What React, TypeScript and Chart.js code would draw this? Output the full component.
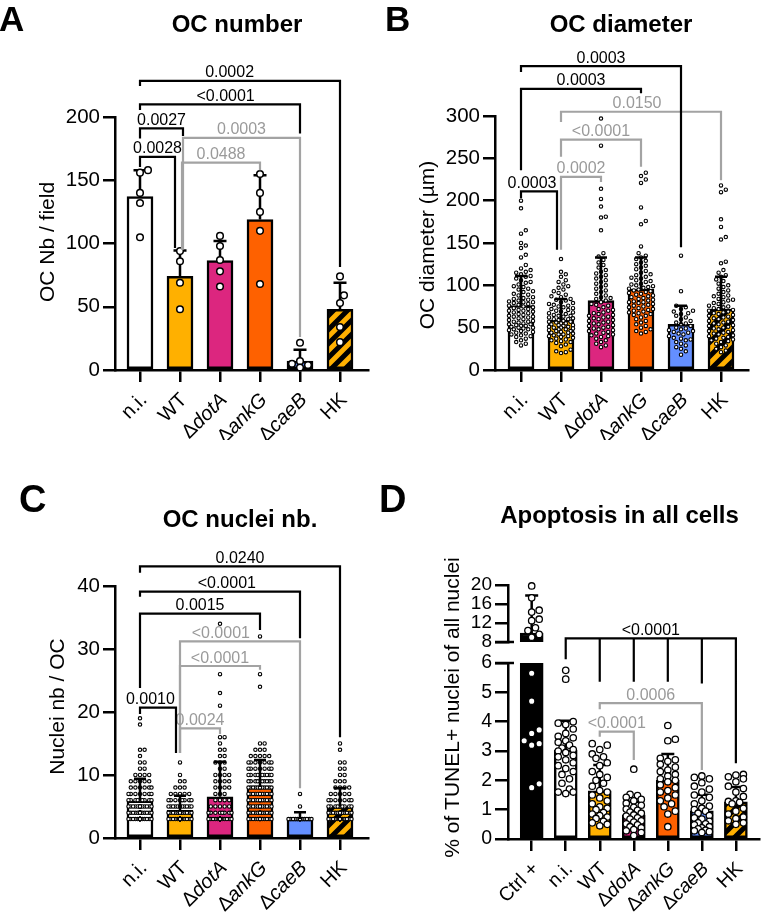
import React, { useEffect, useRef } from 'react';
import { Chart, registerables } from 'chart.js';

Chart.register(...registerables);

const FONT = "'Liberation Sans', Arial, Helvetica, sans-serif";
const GRAY_LINE = '#a3a3a3';
const GRAY_TEXT = '#9a9a9a';
const HATCH_BASE = '#FFB000';

// ---------------- categories ----------------
const catsABC = ['n.i.', 'WT', 'ΔdotA', 'ΔankG', 'ΔcaeB', 'HK'];
const catsD = ['Ctrl +', 'n.i.', 'WT', 'ΔdotA', 'ΔankG', 'ΔcaeB', 'HK'];

// ---------------- tick labels ----------------
const ticksA = [0, 50, 100, 150, 200];
const ticksB = [0, 50, 100, 150, 200, 250, 300];
const ticksC = [0, 10, 20, 30, 40];
const ticksDLow = [0, 1, 2, 3, 4, 5, 6];
const ticksDHigh = [8, 12, 16, 20];

// ---------------- colours ----------------
const fillABC = ['#FFFFFF', '#FFB000', '#DC267F', '#FE6100', '#648FFF', 'hatch'];
const fillD = ['#000000', '#FFFFFF', '#FFB000', '#DC267F', '#FE6100', '#648FFF', 'hatch'];

// ---------------- Panel A : OC number ----------------
const meanA = [137, 74, 86.5, 119, 7, 48];
const sdA = [21, 20.5, 15.5, 35, 9, 21];
const ptsA_ni = [158, 156, 140, 132, 105];
const ptsA_wt = [94, 86, 69, 48];
const ptsA_dotA = [106, 98, 87, 78, 66];
const ptsA_ankG = [155, 140, 125, 110, 68];
const ptsA_caeB = [21.5, 7, 5, 4, 2];
const ptsA_hk = [74, 59, 53, 34, 22];

// ---------------- Panel B : OC diameter ----------------
const meanB = [76, 59, 82, 95.5, 54, 72];
const sdB = [35, 25, 51, 37.5, 22, 38];
const ptsB_ni = [200, 191, 165, 161, 150, 147, 144, 136, 133, 124, 120, 118, 116, 115, 113, 111, 110, 108, 106, 104, 103, 101, 99, 98, 96, 95, 93, 92, 90, 89, 88, 86, 85, 84, 83, 82, 81, 80, 80, 79, 78, 77, 76, 75, 74, 73, 72, 71, 70, 70, 69, 68, 67, 66, 65, 64, 63, 63, 62, 61, 60, 59, 58, 57, 57, 56, 55, 54, 54, 53, 52, 52, 51, 50, 50, 49, 48, 48, 47, 46, 45, 44, 43, 42, 41, 40, 39, 37, 35, 33, 31, 29];
const ptsB_wt = [131, 116, 113, 110, 106, 104, 101, 99, 97, 95, 93, 91, 89, 87, 86, 84, 83, 82, 80, 79, 78, 77, 76, 75, 74, 73, 72, 71, 70, 69, 68, 67, 66, 65, 64, 64, 63, 62, 61, 60, 60, 59, 58, 57, 57, 56, 55, 55, 54, 53, 53, 52, 51, 51, 50, 50, 49, 48, 48, 47, 46, 46, 45, 44, 44, 43, 42, 42, 41, 40, 40, 39, 38, 37, 36, 35, 34, 33, 32, 30, 28, 24, 22, 21, 20];
const ptsB_dotA = [297, 265, 214, 202, 193, 181, 180, 165, 138, 134, 130, 127, 124, 121, 118, 116, 114, 112, 110, 108, 106, 104, 102, 100, 98, 96, 94, 92, 90, 88, 86, 85, 84, 82, 80, 78, 77, 76, 74, 72, 71, 70, 68, 67, 66, 65, 64, 63, 62, 61, 60, 59, 58, 57, 56, 55, 54, 53, 52, 51, 50, 49, 48, 47, 46, 45, 44, 43, 42, 41, 40, 39, 37, 35, 33, 31, 29, 27];
const ptsB_ankG = [233, 229, 225, 221, 192, 176, 172, 146, 138, 135, 133, 131, 129, 127, 125, 123, 121, 119, 117, 115, 113, 112, 110, 109, 108, 106, 105, 104, 102, 101, 100, 99, 98, 97, 96, 95, 94, 93, 92, 91, 90, 89, 88, 87, 86, 85, 84, 83, 82, 81, 80, 80, 79, 78, 77, 76, 75, 74, 73, 72, 71, 70, 69, 68, 67, 66, 65, 64, 62, 60, 58, 56, 54, 52, 50, 48, 46, 45, 43];
const ptsB_caeB = [135, 93, 76, 74, 72, 70, 69, 67, 66, 64, 62, 60, 58, 56, 55, 54, 52, 50, 49, 48, 47, 46, 45, 44, 43, 42, 40, 38, 37, 36, 35, 33, 31, 29, 27, 25, 22, 18];
const ptsB_hk = [218, 213, 210, 178, 169, 157, 154, 128, 126, 118, 115, 112, 110, 107, 105, 102, 100, 98, 96, 94, 92, 90, 88, 87, 86, 84, 83, 82, 80, 79, 78, 76, 75, 74, 73, 72, 71, 70, 69, 68, 67, 66, 65, 64, 63, 62, 61, 60, 59, 58, 57, 56, 55, 54, 53, 52, 51, 50, 49, 48, 47, 46, 45, 44, 43, 42, 41, 40, 39, 38, 37, 36, 35, 34, 33, 31, 29, 27, 25, 23, 21];

// ---------------- Panel C : OC nuclei nb. (value, count) ----------------
const meanC = [5.9, 4.4, 6.55, 8.1, 3.0, 5.0];
const sdC = [3.5, 2.3, 5.55, 4.3, 1.1, 2.9];
const freqC_ni: [number, number][] = [[3, 26], [4, 18], [5, 14], [6, 9], [7, 7], [8, 6], [9, 5], [10, 4], [11, 2], [12, 2], [13, 1], [14, 2], [18, 1], [19, 1]];
const freqC_wt: [number, number][] = [[3, 40], [4, 20], [5, 12], [6, 8], [7, 5], [8, 3], [9, 2], [10, 1], [12, 1]];
const freqC_dotA: [number, number][] = [[3, 35], [4, 8], [5, 5], [6, 4], [7, 3], [8, 4], [9, 4], [10, 4], [11, 2], [12, 3], [13, 2], [14, 2], [15, 1], [16, 2], [21, 1], [23, 1], [26, 1], [34, 1]];
const freqC_ankG: [number, number][] = [[3, 14], [4, 14], [5, 13], [6, 12], [7, 12], [8, 12], [9, 10], [10, 10], [11, 7], [12, 7], [13, 5], [14, 3], [15, 2], [24, 1], [26, 1], [32, 1]];
const freqC_caeB: [number, number][] = [[3, 22], [5, 1], [7, 1]];
const freqC_hk: [number, number][] = [[3, 36], [4, 14], [5, 9], [6, 7], [7, 5], [8, 4], [9, 3], [10, 2], [11, 2], [12, 2], [14, 1], [15, 1]];

// ---------------- Panel D : Apoptosis ----------------
const meanD = [9.9, 3.03, 1.64, 0.82, 2.0, 0.96, 1.27];
const sdD = [7.9, 1.0, 0.88, 0.45, 0.9, 0.55, 0.5];
const ptsD_ctrl = [19.8, 17.3, 14.7, 14.3, 12.8, 12.5, 11.0, 10.4, 9.6, 9.0, 5.65, 4.7, 3.72, 3.6, 3.35, 3.25, 3.2, 1.88, 1.75];
const ptsD_ni = [5.75, 5.45, 4.0, 3.95, 3.9, 3.75, 3.6, 3.5, 3.45, 3.35, 3.3, 3.2, 3.1, 3.05, 3.0, 2.95, 2.85, 2.8, 2.7, 2.6, 2.5, 2.4, 2.3, 2.2, 2.05, 1.9, 1.7, 1.6, 1.6, 1.55];
const ptsD_wt = [3.25, 3.2, 3.05, 2.9, 2.8, 2.75, 2.6, 2.5, 2.3, 2.2, 2.1, 2.0, 1.9, 1.8, 1.65, 1.6, 1.5, 1.4, 1.3, 1.2, 1.1, 1.05, 1.0, 0.9, 0.85, 0.8, 0.75, 0.7, 0.6, 0.55, 0.5, 0.45];
const ptsD_dotA = [2.38, 1.52, 1.48, 1.42, 1.35, 1.3, 1.22, 1.15, 1.08, 1.02, 0.98, 0.92, 0.88, 0.82, 0.78, 0.72, 0.68, 0.62, 0.58, 0.52, 0.48, 0.42, 0.38, 0.32, 0.28, 0.22, 0.12];
const ptsD_ankG = [3.87, 3.4, 3.35, 2.75, 2.7, 2.65, 2.55, 2.45, 2.35, 2.3, 2.2, 2.15, 2.05, 2.0, 1.95, 1.85, 1.75, 1.65, 1.6, 1.5, 1.4, 1.3, 1.2, 1.1, 0.95, 0.85, 0.42];
const ptsD_caeB = [2.15, 2.1, 2.05, 1.92, 1.8, 1.7, 1.6, 1.5, 1.42, 1.3, 1.2, 1.12, 1.05, 1.0, 0.95, 0.88, 0.8, 0.72, 0.68, 0.6, 0.55, 0.52, 0.48, 0.42, 0.38, 0.35, 0.3, 0.28, 0.25, 0.22];
const ptsD_hk = [2.2, 2.18, 2.12, 2.05, 1.95, 1.8, 1.72, 1.6, 1.45, 1.3, 1.28, 1.25, 1.2, 1.05, 0.95, 0.85, 0.75, 0.7, 0.62, 0.55, 0.5];

// ---------------- significance brackets (x in category index, y in data units) ----------------
type Bracket = { xs: number[]; bottoms: number[]; top: number; label: string; gray?: boolean; labelX?: number };

const bracketsA: Bracket[] = [
  { xs: [1.075, 4], bottoms: [95, 26], top: 183.5, label: '0.0003', gray: true },
  { xs: [1.05, 3], bottoms: [95, 158], top: 164, label: '0.0488', gray: true },
  { xs: [0, 0.875], bottoms: [160.5, 96.5], top: 168.5, label: '0.0028' },
  { xs: [0, 1.075], bottoms: [183, 185], top: 191, label: '0.0027' },
  { xs: [0, 4], bottoms: [205.5, 187], top: 210, label: '<0.0001', labelX: 2.14 },
  { xs: [0, 5], bottoms: [224.5, 81.5], top: 228.5, label: '0.0002', labelX: 2.24 },
];
const bracketsB: Bracket[] = [
  { xs: [1, 5], bottoms: [293, 224], top: 305, label: '0.0150', gray: true, labelX: 2.9 },
  { xs: [1, 3], bottoms: [252, 240], top: 272, label: '<0.0001', gray: true },
  { xs: [1, 2], bottoms: [142, 222], top: 228, label: '0.0002', gray: true },
  { xs: [0, 4], bottoms: [352, 145], top: 359, label: '0.0003' },
  { xs: [0, 3], bottoms: [236, 327], top: 332, label: '0.0003' },
  { xs: [0, 0.9], bottoms: [203, 142], top: 211, label: '0.0003', labelX: 0.275 },
];
const bracketsC: Bracket[] = [
  { xs: [1, 4], bottoms: [13.5, 7.9], top: 31.2, label: '<0.0001', gray: true, labelX: 2.02 },
  { xs: [1, 3], bottoms: [13.5, 26.7], top: 27.3, label: '<0.0001', gray: true },
  { xs: [1, 2], bottoms: [13.5, 16.5], top: 17.4, label: '0.0024', gray: true },
  { xs: [0, 5], bottoms: [42.1, 16], top: 43.1, label: '0.0240' },
  { xs: [0, 4], bottoms: [38.3, 31.7], top: 39.1, label: '<0.0001', labelX: 2.17 },
  { xs: [0, 3], bottoms: [23.8, 33], top: 35.6, label: '0.0015' },
  { xs: [0, 0.9], bottoms: [19.7, 13.5], top: 20.7, label: '0.0010', labelX: 0.26 },
];
const bracketsD: Bracket[] = [
  { xs: [2, 5], bottoms: [4.42, 2.35], top: 4.63, label: '0.0006', gray: true },
  { xs: [2, 3], bottoms: [3.49, 2.69], top: 3.66, label: '<0.0001', gray: true },
  { xs: [1, 2, 3, 4, 5, 6], bottoms: [6.13, 5.36, 5.36, 5.36, 5.3, 2.58], top: 6.84, label: '<0.0001' },
];

function expand(table: [number, number][]): number[] {
  const out: number[] = [];
  table.forEach(([v, n]) => { for (let k = 0; k < n; k++) out.push(v); });
  return out;
}

// deterministic bee-swarm spreading (pixel space), returns x offsets in category units
function swarmOffsets(vals: number[], pxY: number, pxX: number, diam: number, half: number): number[] {
  const order = vals.map((_, i) => i).sort((a, b) => vals[a] - vals[b]);
  const placed: { x: number; y: number }[] = [];
  const out = vals.map(() => 0);
  const step = diam / 2;
  const cands = [0];
  for (let k = 1; k * step <= half + 0.01; k++) cands.push(k * step, -k * step);
  for (const i of order) {
    const y = vals[i] * pxY;
    let best = 0;
    let bestD = -1;
    for (const c of cands) {
      let md = Infinity;
      for (const p of placed) {
        const dy = p.y - y;
        if (Math.abs(dy) >= diam) continue;
        const d = Math.hypot(p.x - c, dy);
        if (d < md) md = d;
      }
      if (md >= diam) { best = c; bestD = md; break; }
      if (md > bestD) { bestD = md; best = c; }
    }
    placed.push({ x: best, y });
    out[i] = best / pxX;
  }
  return out;
}

function makeHatch(): any {
  const s = 14;
  const c = document.createElement('canvas');
  c.width = s; c.height = s;
  const g = c.getContext('2d');
  if (!g) return HATCH_BASE;
  g.fillStyle = HATCH_BASE;
  g.fillRect(0, 0, s, s);
  g.strokeStyle = '#000';
  g.lineWidth = 5;
  g.beginPath();
  for (let k = -1; k <= 1; k++) {
    g.moveTo(-s + k * s, s * 2);
    g.lineTo(s * 2 + k * s, -s);
  }
  g.stroke();
  return g.createPattern(c, 'repeat') || HATCH_BASE;
}

type Spec = any;

const PANELS: Spec[] = [
  {
    canvas: { x: 0, y: 0, w: 380, h: 440 }, area: { l: 115, t: 117, r: 368, b: 370 },
    xMin: -0.625, xMax: 5.7, yMin: 0, yMax: 200, yTicks: ticksA, cats: catsABC,
    means: meanA, sds: sdA, points: [ptsA_ni, ptsA_wt, ptsA_dotA, ptsA_ankG, ptsA_caeB, ptsA_hk],
    fills: fillABC, brackets: bracketsA, barWidth: 26, capWidth: 13, pr: 3.3, pbw: 1.5, diam: 8, half: 10,
    tickFont: 20.5, tickLen: 12, showX: true, errOnTop: false, xLab: 20,
    letter: { text: 'A', x: -1, y: 31, size: 35 }, title: { text: 'OC number', x: 237, y: 32 },
    yTitle: { text: 'OC Nb / field', x: 54, y: 242 },
  },
  {
    canvas: { x: 380, y: 0, w: 385, h: 440 }, area: { l: 495, t: 116, r: 748, b: 370 },
    xMin: -0.65, xMax: 5.675, yMin: 0, yMax: 300, yTicks: ticksB, cats: catsABC,
    means: meanB, sds: sdB, points: [ptsB_ni, ptsB_wt, ptsB_dotA, ptsB_ankG, ptsB_caeB, ptsB_hk],
    fills: fillABC, brackets: bracketsB, barWidth: 26, capWidth: 12, pr: 1.7, pbw: 1.1, diam: 4.8, half: 13,
    tickFont: 20.5, tickLen: 12, showX: true, errOnTop: true, xLab: 20,
    letter: { text: 'B', x: 385, y: 31, size: 35 }, title: { text: 'OC diameter', x: 621, y: 32 },
    yTitle: { text: 'OC diameter (µm)', x: 433.5, y: 245 },
  },
  {
    canvas: { x: 0, y: 440, w: 380, h: 474 }, area: { l: 115, t: 586, r: 368, b: 838 },
    xMin: -0.625, xMax: 5.7, yMin: 0, yMax: 40, yTicks: ticksC, cats: catsABC,
    means: meanC, sds: sdC,
    points: [expand(freqC_ni), expand(freqC_wt), expand(freqC_dotA), expand(freqC_ankG), expand(freqC_caeB), expand(freqC_hk)],
    fills: fillABC, brackets: bracketsC, barWidth: 26, capWidth: 12, pr: 1.7, pbw: 1.1, diam: 4.6, half: 12.5,
    tickFont: 20.5, tickLen: 12, showX: true, errOnTop: true, xLab: 20,
    letter: { text: 'C', x: 19, y: 512, size: 38 }, title: { text: 'OC nuclei nb.', x: 240, y: 527 },
    yTitle: { text: 'Nuclei nb / OC', x: 63.5, y: 706.5 },
  },
  {
    canvas: { x: 376, y: 440, w: 389, h: 474 }, area: { l: 508, t: 663, r: 763, b: 839 },
    xMin: -0.696, xMax: 6.7, yMin: 0, yMax: 6, yTicks: ticksDLow, cats: catsD,
    means: meanD, sds: sdD, points: [ptsD_ctrl, ptsD_ni, ptsD_wt, ptsD_dotA, ptsD_ankG, ptsD_caeB, ptsD_hk],
    filter: (v: number) => v < 8, breakAt: 6,
    fills: fillD, brackets: bracketsD, barWidth: 23, capWidth: 13, pr: 3.2, pbw: 1.3, diam: 7.6, half: 11,
    tickFont: 19.5, tickLen: 13, showX: true, errOnTop: false, xLab: 19.5,
    letter: { text: 'D', x: 379, y: 512, size: 38 }, title: { text: 'Apoptosis in all cells', x: 619.5, y: 523 },
    yTitle: { text: '% of TUNEL+ nuclei of all nuclei', x: 458.5, y: 707.5 },
  },
  {
    canvas: { x: 376, y: 560, w: 389, h: 100 }, area: { l: 508, t: 585, r: 763, b: 642 },
    xMin: -0.696, xMax: 6.7, yMin: 8, yMax: 20, yTicks: ticksDHigh, cats: catsD,
    means: meanD, sds: sdD, points: [ptsD_ctrl, ptsD_ni, ptsD_wt, ptsD_dotA, ptsD_ankG, ptsD_caeB, ptsD_hk],
    filter: (v: number) => v >= 8, breakAt: 8,
    fills: fillD, brackets: [], barWidth: 23, capWidth: 13, pr: 3.2, pbw: 1.3, diam: 7.6, half: 11,
    tickFont: 19, tickLen: 13, showX: false, errOnTop: false, xLab: 19.5,
  },
];

function drawXLabel(ctx: CanvasRenderingContext2D, label: string, x: number, y: number, size: number) {
  const parts = label.startsWith('Δ')
    ? [{ t: 'Δ', it: false }, { t: label.slice(1), it: true }]
    : [{ t: label, it: false }];
  ctx.save();
  ctx.translate(x, y);
  ctx.rotate(-Math.PI / 4);
  ctx.textBaseline = 'middle';
  ctx.textAlign = 'left';
  ctx.fillStyle = '#000';
  let total = 0;
  const widths = parts.map((p) => {
    ctx.font = `${p.it ? 'italic ' : ''}${size}px ${FONT}`;
    const w = ctx.measureText(p.t).width;
    total += w;
    return w;
  });
  let cx = -total;
  parts.forEach((p, k) => {
    ctx.font = `${p.it ? 'italic ' : ''}${size}px ${FONT}`;
    ctx.fillText(p.t, cx, 0);
    cx += widths[k];
  });
  ctx.restore();
}

function panelPlugin(spec: Spec) {
  const ox = spec.canvas.x;
  const oy = spec.canvas.y;
  const drawErrors = (chart: any) => {
    const ctx = chart.ctx;
    const xs = chart.scales.x;
    const ys = chart.scales.y;
    const a = chart.chartArea;
    ctx.save();
    ctx.beginPath();
    ctx.rect(a.left - 30, a.top - 3, a.right - a.left + 60, a.bottom - a.top + 3);
    ctx.clip();
    ctx.strokeStyle = '#000';
    ctx.lineWidth = 2.5;
    spec.means.forEach((m: number, i: number) => {
      const x = xs.getPixelForValue(i);
      const y0 = ys.getPixelForValue(m);
      const y1 = ys.getPixelForValue(m + spec.sds[i]);
      ctx.beginPath();
      ctx.moveTo(x, y0);
      ctx.lineTo(x, y1);
      ctx.moveTo(x - spec.capWidth / 2, y1);
      ctx.lineTo(x + spec.capWidth / 2, y1);
      ctx.stroke();
    });
    ctx.restore();
  };
  return {
    id: 'panel',
    beforeDatasetDraw(chart: any, args: any) {
      if (!spec.errOnTop && args.index === 0) drawErrors(chart);
    },
    afterDatasetsDraw(chart: any) {
      if (spec.errOnTop) drawErrors(chart);
      const ctx = chart.ctx;
      const xs = chart.scales.x;
      const ys = chart.scales.y;
      const a = chart.chartArea;
      // axis break marks
      if (spec.breakAt !== undefined) {
        const y = ys.getPixelForValue(spec.breakAt);
        ctx.save();
        ctx.strokeStyle = '#000';
        ctx.lineWidth = 2.5;
        ctx.beginPath();
        ctx.moveTo(a.left - spec.tickLen, y);
        ctx.lineTo(a.left + 6, y);
        ctx.stroke();
        ctx.restore();
      }
      // brackets
      spec.brackets.forEach((b: Bracket) => {
        const col = b.gray ? GRAY_LINE : '#000';
        const yTop = ys.getPixelForValue(b.top);
        const px = b.xs.map((v) => xs.getPixelForValue(v));
        ctx.save();
        ctx.strokeStyle = col;
        ctx.lineWidth = 2.2;
        ctx.lineJoin = 'miter';
        ctx.lineCap = 'butt';
        ctx.beginPath();
        ctx.moveTo(px[0], ys.getPixelForValue(b.bottoms[0]));
        ctx.lineTo(px[0], yTop);
        ctx.lineTo(px[px.length - 1], yTop);
        ctx.lineTo(px[px.length - 1], ys.getPixelForValue(b.bottoms[px.length - 1]));
        for (let k = 1; k < px.length - 1; k++) {
          ctx.moveTo(px[k], yTop);
          ctx.lineTo(px[k], ys.getPixelForValue(b.bottoms[k]));
        }
        ctx.stroke();
        const lx = b.labelX !== undefined ? xs.getPixelForValue(b.labelX) : (Math.min(...px) + Math.max(...px)) / 2;
        ctx.fillStyle = b.gray ? GRAY_TEXT : '#000';
        ctx.font = `16px ${FONT}`;
        ctx.textAlign = 'center';
        ctx.textBaseline = 'alphabetic';
        ctx.fillText(b.label, lx, yTop - 3.5);
        ctx.restore();
      });
    },
    afterDraw(chart: any) {
      const ctx = chart.ctx;
      const xs = chart.scales.x;
      const a = chart.chartArea;
      if (spec.showX) {
        spec.cats.forEach((c: string, i: number) => {
          drawXLabel(ctx, c, xs.getPixelForValue(i) + 4, a.bottom + 27, spec.xLab);
        });
      }
      ctx.save();
      ctx.fillStyle = '#000';
      if (spec.letter) {
        ctx.font = `bold ${spec.letter.size}px ${FONT}`;
        ctx.textAlign = 'left';
        ctx.textBaseline = 'alphabetic';
        ctx.fillText(spec.letter.text, spec.letter.x - ox, spec.letter.y - oy);
      }
      if (spec.title) {
        ctx.font = `bold 24px ${FONT}`;
        ctx.textAlign = 'center';
        ctx.textBaseline = 'alphabetic';
        ctx.fillText(spec.title.text, spec.title.x - ox, spec.title.y - oy);
      }
      if (spec.yTitle) {
        ctx.save();
        ctx.translate(spec.yTitle.x - ox, spec.yTitle.y - oy);
        ctx.rotate(-Math.PI / 2);
        ctx.font = `21px ${FONT}`;
        ctx.textAlign = 'center';
        ctx.textBaseline = 'alphabetic';
        ctx.fillText(spec.yTitle.text, 0, 0);
        ctx.restore();
      }
      ctx.restore();
    },
  };
}

function buildChart(canvas: HTMLCanvasElement, spec: Spec, hatch: any) {
  const { canvas: cv, area } = spec;
  const pxX = (area.r - area.l) / (spec.xMax - spec.xMin);
  const pxY = (area.b - area.t) / (spec.yMax - spec.yMin);
  const filter = spec.filter || (() => true);
  const scatterData: { x: number; y: number }[] = [];
  spec.points.forEach((arr: number[], i: number) => {
    const vals = arr.filter(filter);
    const offs = swarmOffsets(vals, pxY, pxX, spec.diam, spec.half);
    vals.forEach((v, k) => scatterData.push({ x: i + offs[k], y: v }));
  });
  const barData = spec.means.map((m: number, i: number) => ({ x: i, y: m }));
  const fills = spec.fills.map((f: string) => (f === 'hatch' ? hatch : f));
  const xTickVals = spec.cats.map((_: string, i: number) => i);
  const axisGrid = (len: number) => ({
    display: true, drawOnChartArea: false, drawTicks: true, tickLength: len,
    lineWidth: 2.5, tickWidth: 2.5, color: '#000', tickColor: '#000', offset: false,
  });
  const border = { display: true, color: '#000', width: 2.5 };
  const xScale: any = {
    type: 'linear', min: spec.xMin, max: spec.xMax, offset: false, display: spec.showX,
    afterBuildTicks: (s: any) => { s.ticks = xTickVals.map((v: number) => ({ value: v })); },
    grid: axisGrid(12), border, ticks: { display: false },
  };
  if (spec.showX) xScale.afterFit = (s: any) => { s.height = cv.y + cv.h - area.b; };

  return new Chart(canvas, {
    type: 'bar',
    data: {
      datasets: [
        {
          type: 'scatter', data: scatterData, order: 1, clip: false,
          pointRadius: spec.pr, pointBorderWidth: spec.pbw,
          pointBackgroundColor: '#FFFFFF', pointBorderColor: '#000000', showLine: false,
        } as any,
        {
          type: 'bar', data: barData, order: 2, clip: 0,
          backgroundColor: fills, borderColor: '#000000', borderWidth: 2.5, borderSkipped: false,
          barThickness: spec.barWidth,
        } as any,
      ],
    },
    options: {
      animation: false,
      responsive: false,
      maintainAspectRatio: false,
      devicePixelRatio: 1,
      events: [],
      layout: {
        padding: {
          left: 0,
          top: area.t - cv.y,
          right: cv.x + cv.w - area.r,
          bottom: spec.showX ? 0 : cv.y + cv.h - area.b,
        },
      },
      plugins: { legend: { display: false }, tooltip: { enabled: false }, title: { display: false } },
      scales: {
        x: xScale,
        y: {
          type: 'linear', min: spec.yMin, max: spec.yMax, beginAtZero: false,
          afterBuildTicks: (s: any) => { s.ticks = spec.yTicks.map((v: number) => ({ value: v })); },
          afterFit: (s: any) => { s.width = area.l - cv.x; },
          grid: axisGrid(spec.tickLen), border,
          ticks: { autoSkip: false, color: '#000', padding: 3, font: { family: FONT, size: spec.tickFont } },
        },
      },
    } as any,
    plugins: [panelPlugin(spec)],
  });
}

export default function App() {
  const refs = useRef<(HTMLCanvasElement | null)[]>([]);
  useEffect(() => {
    const hatch = makeHatch();
    const charts = PANELS.map((spec, k) => buildChart(refs.current[k] as HTMLCanvasElement, spec, hatch));
    return () => charts.forEach((c) => c.destroy());
  }, []);
  return (
    <div style={{ position: 'absolute', left: 0, top: 0, width: 765, height: 914, background: '#fff', overflow: 'hidden' }}>
      {PANELS.map((p, k) => (
        <canvas
          key={k}
          ref={(el) => { refs.current[k] = el; }}
          width={p.canvas.w}
          height={p.canvas.h}
          style={{ position: 'absolute', left: p.canvas.x, top: p.canvas.y, width: p.canvas.w, height: p.canvas.h }}
        />
      ))}
    </div>
  );
}
